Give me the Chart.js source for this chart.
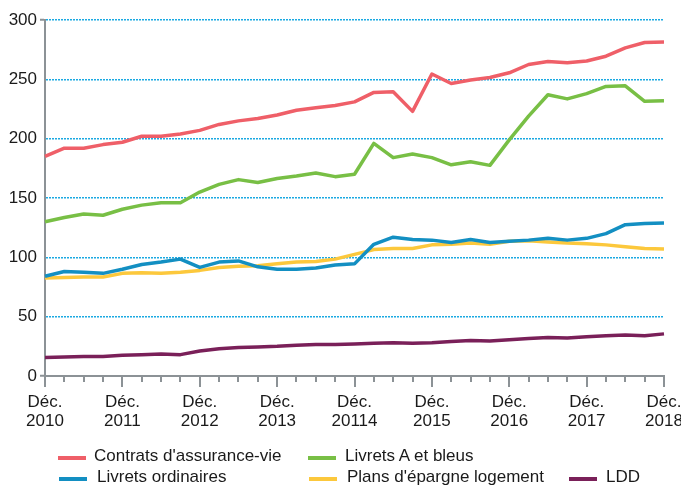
<!DOCTYPE html>
<html>
<head>
<meta charset="utf-8">
<script src="https://cdn.jsdelivr.net/npm/chart.js@4"></script>
<style>
  html, body { margin: 0; padding: 0; background: #fff; }
  #wrap { position: relative; width: 681px; height: 485px; overflow: hidden; }
  #chart { position: absolute; left: 0; top: 0; }
  .lg { position: absolute; font: 17px "Liberation Sans", Arial, sans-serif; line-height: 20px; color: #1a1a1a; white-space: nowrap; }
  .sw { position: absolute; width: 28px; height: 4px; }
</style>
</head>
<body>
<div id="wrap">
  <canvas id="chart" width="681" height="485"></canvas>
  <div class="sw" style="left:58px;top:456px;background:#ef5f68"></div>
  <div class="lg" style="left:94px;top:446px">Contrats d'assurance-vie</div>
  <div class="sw" style="left:308px;top:456px;background:#78bf45"></div>
  <div class="lg" style="left:345px;top:446px">Livrets A et bleus</div>
  <div class="sw" style="left:59px;top:477px;background:#138fc2"></div>
  <div class="lg" style="left:97px;top:467px">Livrets ordinaires</div>
  <div class="sw" style="left:309px;top:477px;background:#fcc83c"></div>
  <div class="lg" style="left:347px;top:467px">Plans d'épargne logement</div>
  <div class="sw" style="left:569px;top:477px;background:#7a2059"></div>
  <div class="lg" style="left:606px;top:467px">LDD</div>
</div>
<script>
// années affichées sous l'axe (coquille "20114" reprise de l'original)
var years = ['2010', '2011', '2012', '2013', '20114', '2015', '2016', '2017', '2018'];
var quarters = ['Mars', 'Juin', 'Sept.', 'Déc.'];

// encours trimestriels, déc. 2010 -> déc. 2018
var assuranceVie = [185, 192, 192, 195, 197, 202, 202, 204, 207, 212, 215, 217, 220, 224, 226, 228, 231,
  239, 239.5, 223, 254.5, 246.5, 249.5, 251.5, 255.5, 262.5, 265, 264, 265.5, 269.5, 276.5, 281, 281.5];
var livretsA = [130, 133.5, 136.5, 135.5, 140.5, 144, 146, 146, 155, 161.5, 165.5, 163, 166.5, 168.5, 171, 168, 170,
  196, 184, 187, 184, 178, 180.5, 177.5, 199, 219, 237, 233.5, 238, 244, 244.5, 231.5, 232];
var livretsOrd = [84, 88, 87.5, 86.5, 90, 94, 96, 98.5, 91.5, 96, 97, 92, 90, 90, 91, 93.5, 94.5,
  111, 117, 115, 114.5, 112.5, 115, 112.5, 113.5, 114.5, 116, 114.5, 116, 120, 127.5, 128.5, 129];
var pel = [82.5, 83, 83.5, 83.5, 86.5, 87, 86.5, 87.5, 89, 91.5, 92.5, 93, 94.5, 96, 96.5, 98.5, 102.5,
  106.5, 107.5, 107.5, 110.5, 111, 112, 111, 113.5, 114, 113, 112, 111.5, 110.5, 109, 107.5, 107];
var ldd = [15.5, 16, 16.5, 16.5, 17.5, 18, 18.5, 18, 21, 23, 24, 24.5, 25, 26, 26.5, 26.5, 27,
  27.5, 28, 27.5, 28, 29, 30, 29.5, 30.5, 31.5, 32.5, 32, 33, 34, 34.5, 34, 35.5];

var labels = ['Déc. ' + years[0]];
for (var y = 1; y < years.length; y++) {
  for (var q = 0; q < 4; q++) labels.push(quarters[q] + ' ' + years[q === 3 ? y : y]);
}

var axisGrey = '#8c9296';

// petites graduations trimestrielles, plus longues en décembre
var quarterTicks = {
  id: 'quarterTicks',
  afterDraw: function(chart) {
    var x = chart.scales.x, c = chart.ctx, bottom = chart.chartArea.bottom;
    c.save();
    c.strokeStyle = axisGrey;
    c.lineWidth = 2;
    for (var i = 0; i < labels.length; i++) {
      var px = Math.round(x.getPixelForValue(i));
      c.beginPath();
      c.moveTo(px, bottom);
      c.lineTo(px, bottom + (i % 4 === 0 ? 11 : 6));
      c.stroke();
    }
    c.restore();
  }
};

function line(label, data, color) {
  return {
    label: label, data: data, borderColor: color, backgroundColor: color,
    borderWidth: 3.5, pointRadius: 0, tension: 0, borderJoinStyle: 'round', fill: false
  };
}

document.addEventListener('DOMContentLoaded', function() {
  var ctx = document.getElementById('chart');
  new Chart(ctx, {
    type: 'line',
    data: {
      labels: labels,
      datasets: [
        line("Contrats d'assurance-vie", assuranceVie, '#ef5f68'),
        line('Livrets A et bleus', livretsA, '#78bf45'),
        line('Livrets ordinaires', livretsOrd, '#138fc2'),
        line("Plans d'épargne logement", pel, '#fcc83c'),
        line('LDD', ldd, '#7a2059')
      ]
    },
    options: {
      responsive: false,
      animation: false,
      layout: { padding: { top: 20, right: 17, left: 0, bottom: 0 } },
      plugins: { legend: { display: false }, tooltip: { enabled: false } },
      scales: {
        x: {
          offset: false,
          grid: { display: false, drawTicks: false },
          border: { display: true, color: axisGrey, width: 2 },
          ticks: {
            autoSkip: false, maxRotation: 0, padding: 17,
            color: '#1a1a1a',
            font: { family: '"Liberation Sans", Arial, sans-serif', size: 17, lineHeight: 1.1 },
            callback: function(v, i) {
              return i % 4 === 0 ? ['Déc.', years[i / 4]] : '';
            }
          },
          afterFit: function(s) { s.height = 109; s.paddingLeft = 0; s.paddingRight = 0; }
        },
        y: {
          min: 0, max: 300,
          grid: {
            drawTicks: true, tickLength: 5, lineWidth: 1.5, tickWidth: 2,
            tickBorderDash: [],
            color: function(c) { return c.tick && c.tick.value === 0 ? 'rgba(0,0,0,0)' : '#1ba9e2'; },
            tickColor: function(c) { return c.tick && (c.tick.value === 0 || c.tick.value === 300) ? axisGrey : 'rgba(0,0,0,0)'; }
          },
          border: { display: true, color: axisGrey, width: 2, dash: [2, 1] },
          ticks: {
            stepSize: 50, padding: 3, color: '#1a1a1a',
            font: { family: '"Liberation Sans", Arial, sans-serif', size: 17 }
          },
          afterFit: function(s) { s.width = 45; }
        }
      }
    },
    plugins: [quarterTicks]
  });
});
</script>
</body>
</html>
